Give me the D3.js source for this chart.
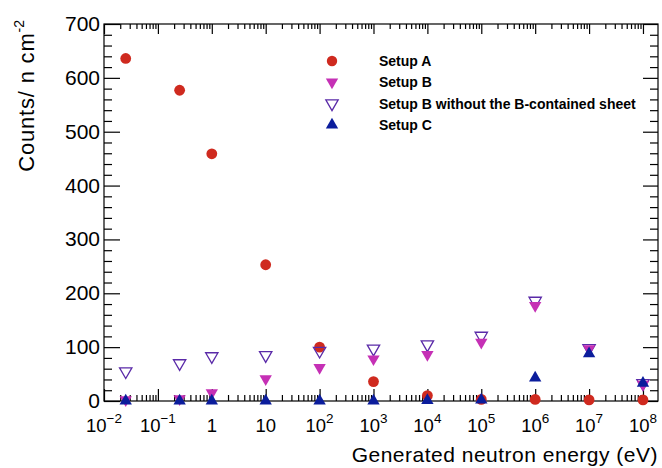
<!DOCTYPE html>
<html lang="en">
<head>
	<meta charset="UTF-8">
	<title>neutron counts</title>
	<style>
		body { margin: 0; background: #fff; }
		text { font-family: "Liberation Sans", Arial, sans-serif; }
	</style>
</head>
<body>
	<svg id="container" width="662" height="468"></svg>
<script src="https://cdn.jsdelivr.net/npm/d3@7"></script>
<script>
	// energies (eV) and counts per series
	let energy = [0.0253, 0.253, 1, 10, 1e2, 1e3, 1e4, 1e5, 1e6, 1e7, 1e8]
	let setupA = [636, 577, 459, 253, 100, 36, 10, 3, 3, 2, 2]
	let setupB = [2, 4, 15, 41, 62, 78, 86, 109, 177, 97, 31]
	let setupBnoSheet = [55, 70, 83, 85, 93, 97, 105, 121, 186, 98, 33]
	let setupC = [0, 0, 0, 0, 0, 0, 1, 2, 43, 88, 33]
	let seriesNames = ["Setup A", "Setup B", "Setup B without the B-contained sheet", "Setup C"]
	let yTicks = [0, 100, 200, 300, 400, 500, 600, 700]
	let xExponents = [-2, -1, 0, 1, 2, 3, 4, 5, 6, 7, 8]

	let svg = d3.select("#container")
	let padL = 104, padR = 658, padT = 24, padB = 401

	let x = d3.scaleLog().domain([1e-2, 1.9e8]).range([padL, padR])
	let y = d3.scaleLinear().domain([0, 700]).range([padB, padT])

	// minor ticks
	let xMinor = []
	for (let e = -2; e <= 8; e++) {
		for (let m = 2; m <= 9; m++) {
			let v = m * Math.pow(10, e)
			if (v < 1.9e8) xMinor.push(v)
		}
	}
	let yMinor = d3.range(0, 701, 20).filter(v => v % 100 != 0)
	let xMajor = xExponents.map(e => Math.pow(10, e))

	function tickAxis(axis, tr, vals, size) {
		svg.append("g")
			.attr("transform", tr)
			.call(axis.tickValues(vals).tickSize(size).tickFormat(""))
			.call(g => g.selectAll(".domain").remove())
			.selectAll("line").attr("stroke", "#000").attr("stroke-width", 1.2)
	}
	tickAxis(d3.axisBottom(x), `translate(0,${padB})`, xMinor, -6)
	tickAxis(d3.axisBottom(x), `translate(0,${padB})`, xMajor, -12)
	tickAxis(d3.axisTop(x), `translate(0,${padT})`, xMinor, -5)
	tickAxis(d3.axisTop(x), `translate(0,${padT})`, xMajor, -10)
	tickAxis(d3.axisLeft(y), `translate(${padL},0)`, yMinor, -8)
	tickAxis(d3.axisLeft(y), `translate(${padL},0)`, yTicks, -16)
	tickAxis(d3.axisRight(y), `translate(${padR},0)`, yMinor, -8)
	tickAxis(d3.axisRight(y), `translate(${padR},0)`, yTicks, -15)

	// frame
	svg.append("rect")
		.attr("x", padL).attr("y", padT)
		.attr("width", padR - padL).attr("height", padB - padT)
		.attr("fill", "none").attr("stroke", "#000").attr("stroke-width", 1.2)

	// y tick labels
	svg.selectAll(".ylab")
		.data(yTicks)
		.enter()
		.append("text")
		.attr("x", padL - 4)
		.attr("y", d => y(d) + 7)
		.attr("text-anchor", "end")
		.attr("font-size", 21)
		.text(d => d)

	// x tick labels
	let xl = svg.selectAll(".xlab")
		.data(xExponents)
		.enter()
		.append("text")
		.attr("x", d => x(Math.pow(10, d)))
		.attr("y", 432)
		.attr("text-anchor", "middle")
		.attr("font-size", 18.5)
	xl.each(function(e) {
		let t = d3.select(this)
		if (e == 0) t.text("1")
		else if (e == 1) t.text("10")
		else {
			t.append("tspan").text("10")
			t.append("tspan").attr("dy", -9).attr("font-size", 13.5)
				.text(e < 0 ? "\u2212" + (-e) : e)
		}
	})

	// axis titles
	svg.append("text")
		.attr("x", padR).attr("y", 462)
		.attr("text-anchor", "end")
		.attr("font-size", 21)
		.attr("letter-spacing", 0.5)
		.text("Generated neutron energy (eV)")

	let yt = svg.append("text")
		.attr("transform", "translate(34,20) rotate(-90)")
		.attr("text-anchor", "end")
		.attr("font-size", 22)
		.attr("letter-spacing", 0.8)
	yt.append("tspan").text("Counts/ n cm")
	yt.append("tspan").attr("dy", -10).attr("font-size", 14).attr("letter-spacing", 0).text("-2")

	// markers
	let tri = d3.symbol().type(d3.symbolTriangle).size(66)
	let colors = ["#cf2a1f", "#c530b5", "#5a2aa8", "#0b1d9c"]

	function drawSeries(vals, cls, draw) {
		let data = energy.map((e, i) => ({ e: e, v: vals[i] }))
		let g = svg.append("g").attr("class", cls)
		draw(g.selectAll("path").data(data).enter())
	}

	drawSeries(setupA, "a", sel => sel.append("circle")
		.attr("cx", d => x(d.e)).attr("cy", d => y(d.v))
		.attr("r", 5.4).attr("fill", colors[0]))

	drawSeries(setupBnoSheet, "bn", sel => sel.append("path")
		.attr("d", tri)
		.attr("transform", d => `translate(${x(d.e)},${y(d.v)}) rotate(180)`)
		.attr("fill", "none").attr("stroke", colors[2]).attr("stroke-width", 1.3))

	drawSeries(setupB, "b", sel => sel.append("path")
		.attr("d", tri)
		.attr("transform", d => `translate(${x(d.e)},${y(d.v)}) rotate(180)`)
		.attr("fill", colors[1]))

	drawSeries(setupC, "c", sel => sel.append("path")
		.attr("d", tri)
		.attr("transform", d => `translate(${x(d.e)},${y(d.v)})`)
		.attr("fill", colors[3]))

	// legend
	let legX = 332, legTxt = 379, legY = [61, 82, 103.5, 125]
	let leg = svg.append("g")
	seriesNames.forEach((name, i) => {
		if (i == 0) {
			leg.append("circle").attr("cx", legX).attr("cy", legY[i]).attr("r", 5.2).attr("fill", colors[0])
		} else {
			let p = leg.append("path").attr("d", tri)
				.attr("transform", `translate(${legX},${legY[i]})` + (i < 3 ? " rotate(180)" : ""))
			if (i == 2) p.attr("fill", "none").attr("stroke", colors[2]).attr("stroke-width", 1.3)
			else p.attr("fill", colors[i])
		}
		leg.append("text")
			.attr("x", legTxt).attr("y", legY[i] + 5)
			.attr("font-size", 14).attr("font-weight", "bold")
			.text(name)
	})
</script>
</body>
</html>
